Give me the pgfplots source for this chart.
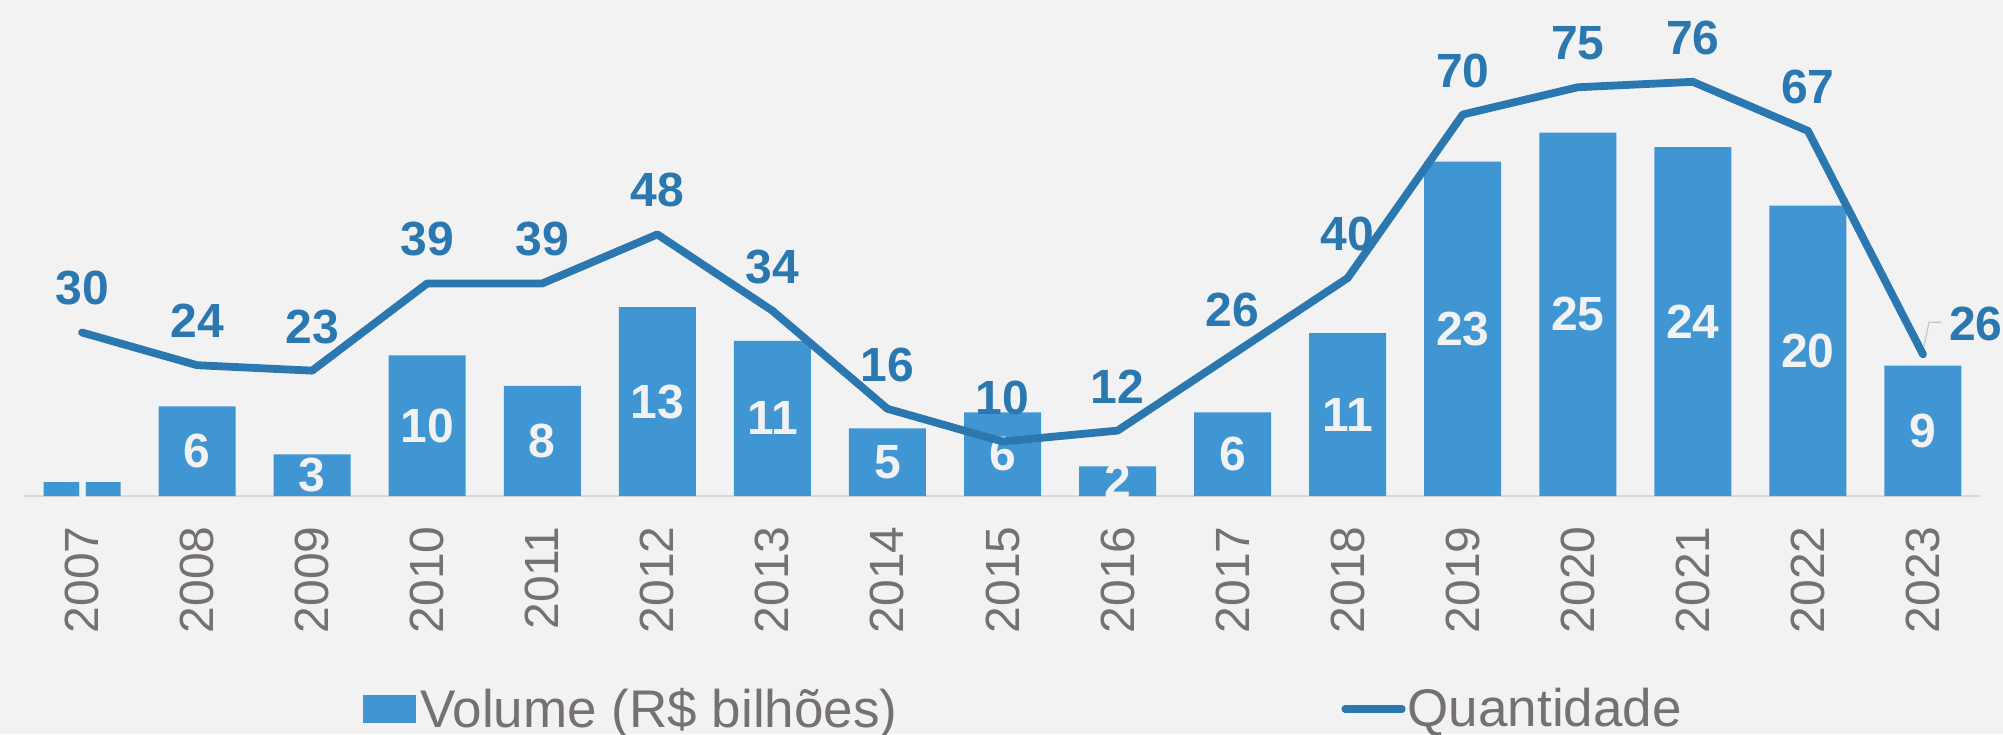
\documentclass[border=0pt]{standalone}
\usepackage{pgfplots}
\usepackage{pgfplotstable}
\usepackage{fontspec}
\setmainfont{Liberation Sans}
\pgfplotsset{compat=1.18, /pgf/number format/assume math mode=true}
\definecolor{bgc}{HTML}{F2F2F2}
\definecolor{barblue}{HTML}{3F96D2}
\definecolor{lineblue}{HTML}{2B77B0}
\definecolor{tickgray}{HTML}{767171}
\definecolor{basegray}{HTML}{D9D9D9}

\pgfplotstableread{
x vol
0 0.96
1 6.17
2 2.87
3 9.68
4 7.57
5 12.99
6 10.67
7 4.66
8 5.76
9 2.04
10 5.76
11 11.20
12 23.00
13 25.00
14 24.00
15 19.98
16 8.97
}\voltable

\pgfplotstableread{
x qty
0 30
1 24
2 23
3 39
4 39
5 48
6 34
7 16
8 10
9 12
10 26
11 40
12 70
13 75
14 76
15 67
16 26
}\qtytable

\begin{document}
\begin{tikzpicture}
\useasboundingbox (-12.25pt,-119pt) rectangle (989.25pt,248pt);
\fill[bgc] (-12.25pt,-119pt) rectangle (989.25pt,248pt);
\begin{axis}[
  at={(0,0)}, anchor=south west,
  scale only axis, width=978pt, height=218pt,
  xmin=-0.5, xmax=16.5, ymin=0, ymax=30,
  clip=false,
  axis x line*=bottom, axis y line=none,
  x axis line style={draw=basegray, line width=1pt},
  xtick={0,...,16},
  xticklabels={2007,2008,2009,2010,2011,2012,2013,2014,2015,2016,2017,2018,2019,2020,2021,2022,2023},
  major tick length=0pt,
  xticklabel style={rotate=90, anchor=east, inner sep=0pt, text=tickgray, font=\fontsize{24}{28}\selectfont},
  xticklabel shift=15pt,
  ytick=\empty,
]
\addplot[ybar, bar width=38.5pt, fill=barblue, draw=none] table[x=x, y=vol] {\voltable};
\addplot[draw=none, mark=none,
  nodes near coords={\pgfmathprintnumber[fixed,precision=0,assume math mode=true]{\pgfplotspointmeta}},
  point meta=explicit,
  every node near coord/.style={anchor=center, inner sep=0pt, text=bgc, font=\fontsize{24}{28}\selectfont\bfseries}]
  table[x=x, y expr=\thisrow{vol}/2, meta=vol] {\voltable};
\end{axis}
\begin{axis}[
  at={(0,0)}, anchor=south west,
  scale only axis, width=978pt, height=218pt,
  xmin=-0.5, xmax=16.5, ymin=0, ymax=80,
  clip=false, hide axis,
  legend columns=2,
  legend style={at={(0.17306,-0.4885)}, anchor=west, draw=none, fill=none, inner sep=0pt,
    font=\fontsize{26.5}{30}\selectfont, text=tickgray,
    /tikz/every even column/.append style={column sep=222pt},
    nodes={inner sep=0pt}},
  legend cell align=left,
]
\addlegendimage{legend image code/.code={\fill[barblue] (0pt,-6.75pt) rectangle (26pt,6.75pt);}}
\addlegendentry{\hspace{2pt}Volume (R\$ bilhões)}
\addplot[lineblue, line width=3.9pt, line join=round, line cap=round, mark=none,
  legend image code/.code={\draw[lineblue, line width=3.6pt, line cap=round] (0pt,0pt) -- (28.5pt,0pt);}]
  table[x=x, y=qty] {\qtytable};
\addlegendentry{\hspace{1pt}Quantidade}
\addplot[draw=none, mark=none, forget plot, restrict x to domain=0:15,
  nodes near coords={\pgfmathprintnumber[assume math mode=true]{\pgfplotspointmeta}}, point meta=explicit,
  every node near coord/.style={anchor=center, yshift=22pt, inner sep=0pt, text=lineblue, font=\fontsize{24}{28}\selectfont\bfseries}]
  table[x=x, y=qty, meta=qty] {\qtytable};
\addplot[draw=none, mark=none, forget plot, restrict x to domain=16:16,
  nodes near coords={\pgfmathprintnumber[assume math mode=true]{\pgfplotspointmeta}}, point meta=explicit,
  every node near coord/.style={anchor=center, xshift=26.5pt, yshift=15.25pt, inner sep=0pt, text=lineblue, font=\fontsize{24}{28}\selectfont\bfseries}]
  table[x=x, y=qty, meta=qty] {\qtytable};
\draw[basegray!80!black!70, line width=0.6pt] (axis cs:16,26) ++(0.5pt,4pt) -- ++(2.5pt,12pt) -- ++(6pt,0pt);
\end{axis}
\end{tikzpicture}
\end{document}
